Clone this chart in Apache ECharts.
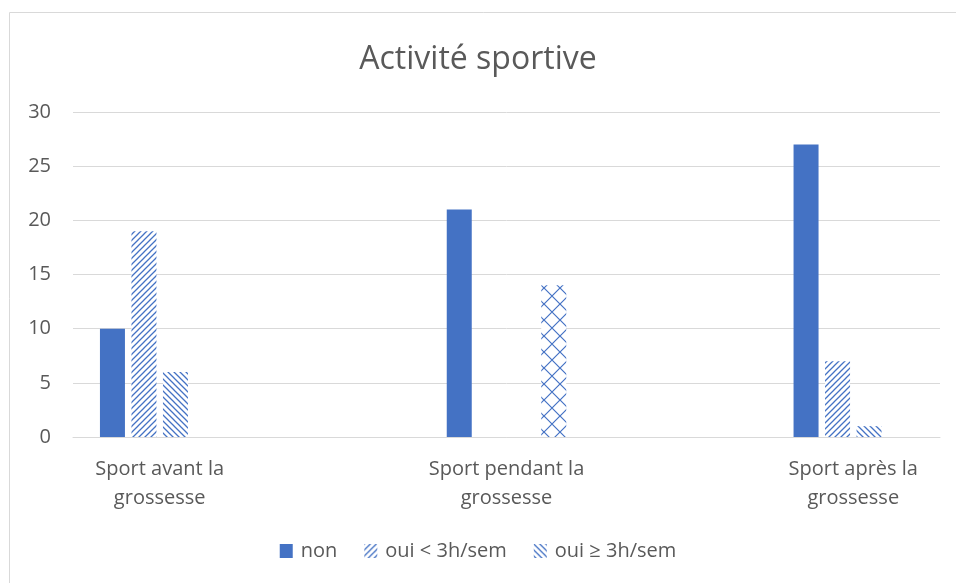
<!DOCTYPE html>
<html>
<head>
<meta charset="utf-8">
<script src="https://cdn.jsdelivr.net/npm/echarts@6/dist/echarts.min.js"></script>
<style>
  html, body { margin: 0; padding: 0; background: #fff; }
  #chart { width: 956px; height: 583px; }
</style>
</head>
<body>
<div id="chart"></div>
<script>
// categories (2nd and 4th are empty rows in the source sheet)
const categories = ['Sport avant la\ngrossesse', '', 'Sport pendant la\ngrossesse', '', 'Sport après la\ngrossesse']
const nonData = [10, null, 21, null, 27]
const ouiMoinsData = [19, null, null, null, 7]
const ouiPlusData = [6, null, null, null, 1]
const ouiData = [null, null, 14, null, null]
const yTicks = { min: 0, max: 30, interval: 5 }

const blue = '#4472C4'

// hatch tiles
function makeTile(size, draw) {
  const c = document.createElement('canvas')
  c.width = size
  c.height = size
  const ctx = c.getContext('2d')
  ctx.fillStyle = '#fff'
  ctx.fillRect(0, 0, size, size)
  ctx.strokeStyle = blue
  ctx.lineWidth = 1.3
  draw(ctx, size)
  return c
}
const fwdTile = makeTile(6, (ctx, s) => {
  ctx.beginPath()
  ctx.moveTo(-1, s + 1); ctx.lineTo(s + 1, -1)
  ctx.moveTo(-1, 1); ctx.lineTo(1, -1)
  ctx.moveTo(s - 1, s + 1); ctx.lineTo(s + 1, s - 1)
  ctx.stroke()
})
const backTile = makeTile(6, (ctx, s) => {
  ctx.beginPath()
  ctx.moveTo(-1, -1); ctx.lineTo(s + 1, s + 1)
  ctx.moveTo(s - 1, -1); ctx.lineTo(s + 1, 1)
  ctx.moveTo(-1, s - 1); ctx.lineTo(1, s + 1)
  ctx.stroke()
})
const crossTile = makeTile(16, (ctx, s) => {
  ctx.lineWidth = 1.2
  ctx.beginPath()
  ctx.moveTo(0, 0); ctx.lineTo(s, s)
  ctx.moveTo(s, 0); ctx.lineTo(0, s)
  ctx.stroke()
})

const chart = echarts.init(document.getElementById('chart'))
const txt = '#595959'
const font = 'Open Sans'

chart.setOption({
  animation: false,
  title: {
    text: 'Activité sportive',
    left: 'center',
    top: 39,
    textStyle: { fontFamily: font, fontSize: 32, fontWeight: 'normal', color: txt }
  },
  graphic: [{
    type: 'rect',
    shape: { x: 9.5, y: 12.5, width: 980, height: 620 },
    style: { fill: 'none', stroke: '#d9d9d9', lineWidth: 1 },
    silent: true
  }],
  legend: {
    bottom: 17,
    left: 'center',
    itemWidth: 13,
    itemHeight: 14,
    itemGap: 27,
    icon: 'rect',
    data: ['non', 'oui < 3h/sem', 'oui ≥ 3h/sem'],
    textStyle: { fontFamily: font, fontSize: 20, color: txt, padding: [0, 0, 0, 3] }
  },
  grid: { left: 73, right: 16, top: 112, bottom: 146 },
  xAxis: {
    type: 'category',
    data: categories,
    axisTick: { show: false },
    axisLine: { lineStyle: { color: '#d9d9d9', width: 1 } },
    axisLabel: {
      interval: 0,
      margin: 18,
      fontFamily: font,
      fontSize: 20,
      lineHeight: 29,
      color: txt
    }
  },
  yAxis: {
    type: 'value',
    min: yTicks.min,
    max: yTicks.max,
    interval: yTicks.interval,
    axisLine: { show: false },
    axisTick: { show: false },
    splitLine: { lineStyle: { color: '#d9d9d9', width: 1 } },
    axisLabel: { margin: 22, fontFamily: font, fontSize: 20, color: txt }
  },
  series: [
    { name: 'non', type: 'bar', barWidth: 25, barGap: '26%', data: nonData,
      itemStyle: { color: blue } },
    { name: 'oui < 3h/sem', type: 'bar', barWidth: 25, barGap: '26%', data: ouiMoinsData,
      itemStyle: { color: { image: fwdTile, repeat: 'repeat' } } },
    { name: 'oui ≥ 3h/sem', type: 'bar', barWidth: 25, barGap: '26%', data: ouiPlusData,
      itemStyle: { color: { image: backTile, repeat: 'repeat' } } },
    { name: 'oui', type: 'bar', barWidth: 25, barGap: '26%', data: ouiData,
      itemStyle: { color: { image: crossTile, repeat: 'repeat' } } }
  ]
})
</script>
</body>
</html>
